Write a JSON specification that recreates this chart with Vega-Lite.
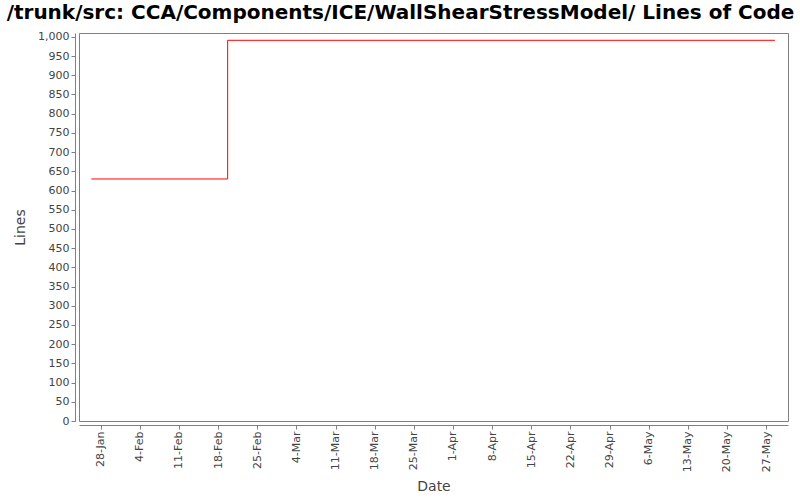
{
  "$schema": "https://vega.github.io/schema/vega-lite/v6.json",
  "width": 709,
  "height": 388,
  "autosize": {"type": "none"},
  "padding": {"left": 79, "top": 33, "right": 12, "bottom": 79},
  "background": "white",
  "title": {
    "text": "/trunk/src: CCA/Components/ICE/WallShearStressModel/ Lines of Code",
    "font": "DejaVu Sans",
    "fontSize": 20,
    "fontWeight": "bold",
    "color": "black",
    "anchor": "middle",
    "frame": "group",
    "dx": -33,
    "offset": 8
  },
  "config": {
    "view": {"stroke": "#808080", "strokeWidth": 1},
    "axis": {
      "labelFont": "DejaVu Sans",
      "titleFont": "DejaVu Sans",
      "labelFontSize": 11,
      "labelColor": "#444444",
      "titleColor": "#444444",
      "titleFontSize": 14,
      "titleFontWeight": "normal",
      "domainColor": "#808080",
      "tickColor": "#808080",
      "tickSize": 4,
      "grid": false,
      "offset": 4
    }
  },
  "data": {
    "values": [
      {"date": "2007-01-26T08:00:00Z", "loc": 630},
      {"date": "2007-02-19T17:00:00Z", "loc": 991},
      {"date": "2007-05-28T14:00:00Z", "loc": 991}
    ]
  },
  "mark": {"type": "line", "interpolate": "step-after", "color": "red", "strokeWidth": 1},
  "encoding": {
    "x": {
      "field": "date",
      "type": "temporal",
      "scale": {
        "type": "utc",
        "domain": [
          {"year": 2007, "month": 1, "date": 24, "hours": 3, "utc": true},
          {"year": 2007, "month": 5, "date": 30, "hours": 22, "utc": true}
        ]
      },
      "axis": {
        "title": "Date",
        "labelExpr": "utcFormat(datum.value, '%-d-%b')",
        "labelAngle": 270,
        "labelAlign": "right",
        "labelBaseline": "middle",
        "titlePadding": 8,
        "values": [
          {"year": 2007, "month": 1, "date": 28, "utc": true},
          {"year": 2007, "month": 2, "date": 4, "utc": true},
          {"year": 2007, "month": 2, "date": 11, "utc": true},
          {"year": 2007, "month": 2, "date": 18, "utc": true},
          {"year": 2007, "month": 2, "date": 25, "utc": true},
          {"year": 2007, "month": 3, "date": 4, "utc": true},
          {"year": 2007, "month": 3, "date": 11, "utc": true},
          {"year": 2007, "month": 3, "date": 18, "utc": true},
          {"year": 2007, "month": 3, "date": 25, "utc": true},
          {"year": 2007, "month": 4, "date": 1, "utc": true},
          {"year": 2007, "month": 4, "date": 8, "utc": true},
          {"year": 2007, "month": 4, "date": 15, "utc": true},
          {"year": 2007, "month": 4, "date": 22, "utc": true},
          {"year": 2007, "month": 4, "date": 29, "utc": true},
          {"year": 2007, "month": 5, "date": 6, "utc": true},
          {"year": 2007, "month": 5, "date": 13, "utc": true},
          {"year": 2007, "month": 5, "date": 20, "utc": true},
          {"year": 2007, "month": 5, "date": 27, "utc": true}
        ]
      }
    },
    "y": {
      "field": "loc",
      "type": "quantitative",
      "scale": {"domain": [0, 1010], "nice": false, "zero": true},
      "axis": {
        "title": "Lines",
        "format": ",d",
        "values": [0, 50, 100, 150, 200, 250, 300, 350, 400, 450, 500, 550, 600, 650, 700, 750, 800, 850, 900, 950, 1000],
        "titlePadding": 10
      }
    }
  }
}
